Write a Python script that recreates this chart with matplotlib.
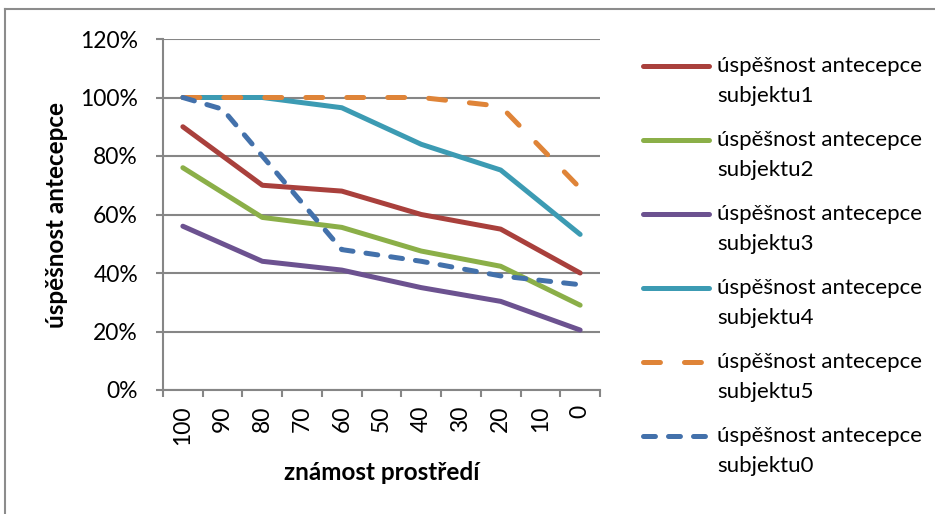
import matplotlib
matplotlib.use("Agg")
import matplotlib.pyplot as plt
from matplotlib.lines import Line2D
from matplotlib.ticker import PercentFormatter, FixedLocator

plt.rcParams['font.family'] = ['Lato', 'DejaVu Sans']
plt.rcParams['lines.scale_dashes'] = False

# ---- data ----
x_vals = [100, 80, 60, 40, 20, 0]
s1 = [90, 70, 68, 60, 55, 40]
s2 = [76, 59, 55.6, 47.5, 42.3, 29]
s3 = [56, 44, 41, 35, 30.3, 20.5]
s4 = [100, 100, 96.5, 84, 75.2, 53.2]
s5 = [100, 100, 100, 100, 97, 69]
x0_vals = [100, 90, 60, 40, 20, 0]
s0 = [100, 96, 48, 44, 39, 36]
categories = [100, 90, 80, 70, 60, 50, 40, 30, 20, 10, 0]
labels = ["úspěšnost antecepce\nsubjektu1", "úspěšnost antecepce\nsubjektu2",
          "úspěšnost antecepce\nsubjektu3", "úspěšnost antecepce\nsubjektu4",
          "úspěšnost antecepce\nsubjektu5", "úspěšnost antecepce\nsubjektu0"]

colors = ['#A9403C', '#8BAF48', '#6C5290', '#3C9BB3', '#DF8438', '#4371AB']
styles = ['-', '-', '-', '-', (0, (12.2, 17.3)), (0, (8.6, 9.4))]

W, H = 935, 514
fig = plt.figure(figsize=(W / 100, H / 100), dpi=100)
ax = fig.add_axes([163 / W, 1 - 390 / H, (600 - 163) / W, (390 - 39) / H])

series = [(x_vals, s1), (x_vals, s2), (x_vals, s3), (x_vals, s4), (x_vals, s5), (x0_vals, s0)]
lw = 3.6
for (xs, ys), c, ls in zip(series, colors, styles):
    ax.plot(xs, ys, color=c, lw=lw, linestyle=ls, solid_capstyle='round',
            dash_capstyle='round', solid_joinstyle='round', zorder=3)

gray = '#868686'
ax.set_ylim(0, 120)
ax.set_xlim(105, -5)
ax.set_yticks(range(0, 121, 20))
ax.yaxis.set_major_formatter(PercentFormatter(100, decimals=0))
ax.grid(axis='y', color=gray, lw=1.5)
ax.set_axisbelow(True)
ax.set_xticks(categories)
ax.set_xticklabels([str(c) for c in categories], rotation=90)
ax.xaxis.set_minor_locator(FixedLocator([105 - 10 * i for i in range(12)]))
ax.tick_params(axis='x', which='major', length=0, pad=11, labelsize=16.5)
ax.tick_params(axis='x', which='minor', length=5, width=1.5, color=gray)
ax.tick_params(axis='y', length=5, width=1.5, color=gray, pad=13, labelsize=16.5)
for side in ['top', 'right']:
    ax.spines[side].set_visible(False)
for side in ['left', 'bottom']:
    ax.spines[side].set_color(gray)
    ax.spines[side].set_linewidth(1.5)

ax.set_xlabel("známost prostředí", fontsize=17.5, fontweight='bold')
ax.xaxis.set_label_coords(0.5, 1 - (473 - 39) / (390 - 39))
ax.xaxis.label.set_va('center')
ax.set_ylabel("úspěšnost antecepce", fontsize=17.5, fontweight='bold')
ax.yaxis.set_label_coords(-(163 - 56) / (600 - 163), 0.5)
ax.yaxis.label.set_va('center')

# legend (manual, handle aligned with first text line)
ys_leg = [66, 140, 214, 288, 362, 436]
for y, c, ls, lab in zip(ys_leg, colors, styles, labels):
    fy = 1 - y / H
    fig.add_artist(Line2D([643 / W, 709 / W], [fy, fy], transform=fig.transFigure,
                          color=c, lw=lw, linestyle=ls, solid_capstyle='round',
                          dash_capstyle='round'))
    l1, l2 = lab.split("\n")
    fig.text(717 / W, fy, l1, fontsize=16, va='center', ha='left')
    fig.text(717 / W, 1 - (y + 30) / H, l2, fontsize=16, va='center', ha='left')

# outer chart frame (partially visible)
fig.add_artist(Line2D([5 / W, 5 / W], [0, 1 - 9 / H], transform=fig.transFigure,
                      color='#8c8c8c', lw=1.5))
fig.add_artist(Line2D([5 / W, 1], [1 - 9 / H, 1 - 9 / H], transform=fig.transFigure,
                      color='#8c8c8c', lw=1.5))

fig.savefig("out.png", dpi=100)
